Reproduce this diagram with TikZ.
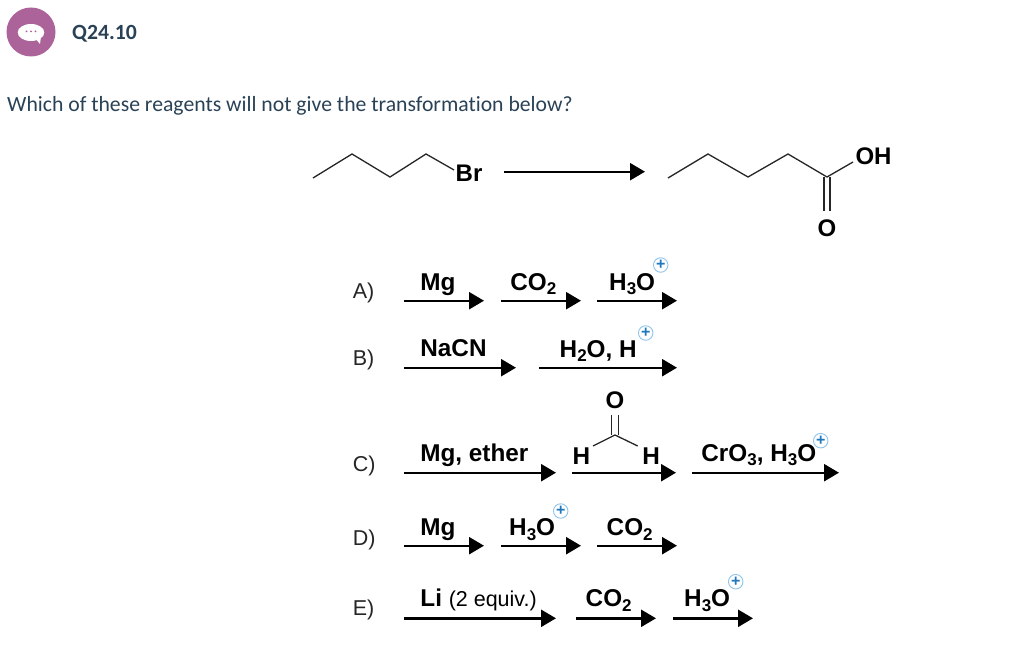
\documentclass[tikz,border=0pt]{standalone}
\usepackage{fontspec}
\setmainfont{Liberation Sans}
\newfontfamily\uifont[Ligatures=NoCommon]{Carlito}
\usetikzlibrary{arrows.meta}
\definecolor{slate}{HTML}{2A4256}
\definecolor{mauve}{HTML}{AB6399}
\definecolor{plusblue}{HTML}{1F77BC}
\definecolor{pluspale}{HTML}{8FC4EA}
\newcommand{\subidx}[1]{\raisebox{-4.5pt}{\fontsize{17}{17}\selectfont #1}}
\tikzset{
	reagent/.style={anchor=base west, inner sep=0pt, font=\fontsize{24.3}{24}\selectfont\bfseries},
	choice/.style={anchor=base west, inner sep=0pt, font=\fontsize{21.5}{21.5}\selectfont, text=black!85},
	atom/.style={inner sep=0pt, font=\fontsize{24}{24}\selectfont\bfseries},
	bond/.style={line width=1.3pt, black!85},
	rxn/.style={line width=2.4pt, -{Triangle[length=15pt, width=17pt]}},
	charge/.style={circle, draw=pluspale, fill=white, line width=0.9pt, minimum size=14.5pt, inner sep=0pt, text=plusblue, font=\fontsize{16}{16}\selectfont\bfseries},
}
\begin{document}
\begin{tikzpicture}[x=1pt, y=-1pt]
	\useasboundingbox[fill=white] (0,0) rectangle (1024,666);

	\node[circle, fill=mauve, minimum size=49pt, inner sep=0pt] (icon) at (31,32) {};
	\fill[white] (31,32.5) ellipse (13.3 and 8.5);
	\fill[white] (35,38) -- (40,44) -- (41,36) -- cycle;
	\foreach \dotx in {26.5,31,35.5} {
		\fill[mauve] (\dotx,31.5) circle (1);
	}
	\node[anchor=base west, inner sep=0pt, text=slate, font=\uifont\fontsize{21.7}{22}\selectfont\bfseries] (title) at (72,40) {Q24.10};
	\node[anchor=base west, inner sep=0pt, text=slate, font=\uifont\fontsize{21.7}{22}\selectfont] (question) at (7,112) {Which of these reagents will not give the transformation below?};

	\coordinate (br1) at (313,178);
	\coordinate (br2) at (352,154);
	\coordinate (br3) at (390,177);
	\coordinate (br4) at (426,154);
	\coordinate (br5) at (454,170);
	\node[atom] (br) at (469,173.5) {Br};
	\draw[bond] (br1) -- (br2) -- (br3) -- (br4) -- (br5);

	\coordinate (main1) at (504,171.7);
	\coordinate (main2) at (645,171.7);
	\draw[rxn] (main1) -- (main2);

	\coordinate (ac1) at (668,178);
	\coordinate (ac2) at (708,154);
	\coordinate (ac3) at (748,177);
	\coordinate (ac4) at (788,154);
	\coordinate (ac5) at (827,177);
	\coordinate (ac6) at (853,162);
	\coordinate (dbl1) at (824,177);
	\coordinate (dbl2) at (824,211);
	\coordinate (dbl3) at (830,177);
	\coordinate (dbl4) at (830,211);
	\node[atom] (oh) at (873.5,156) {OH};
	\node[atom] (ox) at (827,228) {O};
	\draw[bond] (ac1) -- (ac2) -- (ac3) -- (ac4) -- (ac5) -- (ac6);
	\draw[bond] (dbl1) -- (dbl2);
	\draw[bond] (dbl3) -- (dbl4);

	\node[choice] (la) at (352.7,298) {A)};
	\node[choice] (lb) at (352.7,365) {B)};
	\node[choice] (lc) at (352.7,471.7) {C)};
	\node[choice] (ld) at (352.7,545) {D)};
	\node[choice] (le) at (352.7,615) {E)};

	\foreach \arrowname/\xa/\xb/\yy in {
		a1/404/484/300.7, a2/501/581/300.7, a3/597/677/300.7,
		b1/404/516/367.7, b2/539/677/367.7,
		c1/404/556/472.7, c2/572/676/472.7, c3/692/839/472.7,
		d1/404/484/545.7, d2/501/581/545.7, d3/597/677/545.7,
		e1/404/556/618.3, e2/576/656/618.3, e3/673/753/618.3} {
		\coordinate (\arrowname s) at (\xa,\yy);
		\coordinate (\arrowname e) at (\xb,\yy);
		\draw[rxn] (\arrowname s) -- (\arrowname e);
	}

	\node[reagent] (amg) at (420.2,290.5) {Mg};
	\node[reagent] (aco) at (510.2,290) {CO\subidx{2}};
	\node[reagent] (aho) at (609,290) {H\subidx{3}O};
	\node[charge] (ap) at (660.7,265) {+};

	\node[reagent] (bna) at (420.2,356.7) {NaCN};
	\node[reagent] (bho) at (559.5,357) {H\subidx{2}O, H};
	\node[charge] (bp) at (645.7,333) {+};

	\node[reagent] (cmg) at (420.2,461) {Mg, ether};
	\node[reagent] (chl) at (572.5,464) {H};
	\node[reagent] (chr) at (642.2,464) {H};
	\node[atom] (cox) at (615,400) {O};
	\coordinate (cc) at (615,435);
	\coordinate (cl) at (593,446);
	\coordinate (cr) at (637.7,446);
	\coordinate (co1) at (611.8,415);
	\coordinate (co2) at (611.8,435);
	\coordinate (co3) at (618.2,415);
	\coordinate (co4) at (618.2,435);
	\draw[bond] (cl) -- (cc) -- (cr);
	\draw[bond] (co1) -- (co2);
	\draw[bond] (co3) -- (co4);
	\node[reagent] (ccr) at (701.2,461) {CrO\subidx{3}, H\subidx{3}O};
	\node[charge] (cp) at (820.7,440.7) {+};

	\node[reagent] (dmg) at (420.2,535.7) {Mg};
	\node[reagent] (dho) at (509,535.7) {H\subidx{3}O};
	\node[charge] (dp) at (560.7,511) {+};
	\node[reagent] (dco) at (606.5,535.7) {CO\subidx{2}};

	\node[reagent] (eli) at (420.2,606.7) {Li {\mdseries\fontsize{21.5}{21.5}\selectfont (2 equiv.)}};
	\node[reagent] (eco) at (585.5,606.7) {CO\subidx{2}};
	\node[reagent] (eho) at (684,606.7) {H\subidx{3}O};
	\node[charge] (ep) at (735.7,581.7) {+};
\end{tikzpicture}
\end{document}
